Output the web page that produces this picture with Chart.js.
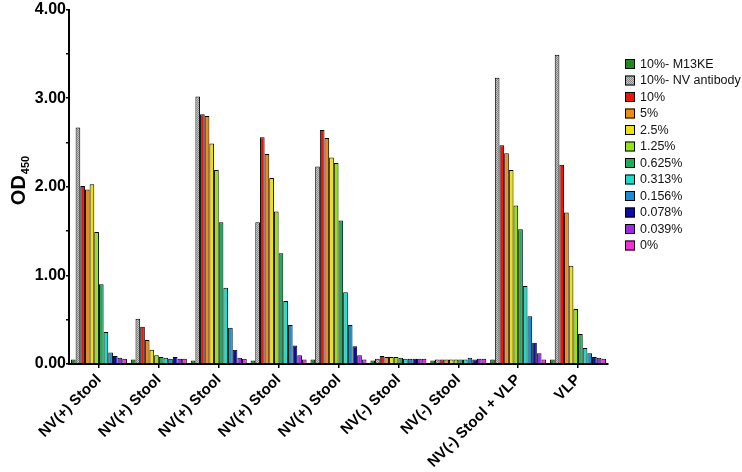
<!DOCTYPE html>
<html lang="en">
<head>
    <meta charset="UTF-8">
    <title>OD450 by sample</title>
    <style>
        body { margin: 0; background: #fff; }
        #chart-container { width: 742px; height: 472px; }
    </style>
    <script src="https://cdn.jsdelivr.net/npm/chart.js"></script>
</head>
<body>
    <div id="chart-container">
        <canvas id="odChart" width="742" height="472"></canvas>
    </div>

    <script>
        // Sample groups (x-axis)
        const categories = ['NV(+) Stool', 'NV(+) Stool', 'NV(+) Stool', 'NV(+) Stool', 'NV(+) Stool',
                            'NV(-) Stool', 'NV(-) Stool', 'NV(-) Stool + VLP', 'VLP'];

        // OD450 readings per series, one value per sample group
        const m13ke      = [0.05, 0.05, 0.04, 0.04, 0.05, 0.04, 0.04, 0.05, 0.05];
        const nvAntibody = [2.67, 0.51, 3.02, 1.60, 2.23, 0.06, 0.05, 3.23, 3.49];
        const pct10      = [2.01, 0.42, 2.82, 2.56, 2.64, 0.09, 0.05, 2.47, 2.25];
        const pct5       = [1.97, 0.27, 2.80, 2.37, 2.55, 0.08, 0.05, 2.38, 1.71];
        const pct2_5     = [2.03, 0.16, 2.49, 2.10, 2.33, 0.08, 0.05, 2.19, 1.11];
        const pct1_25    = [1.49, 0.10, 2.19, 1.72, 2.27, 0.08, 0.05, 1.79, 0.62];
        const pct0_625   = [0.90, 0.08, 1.60, 1.25, 1.62, 0.07, 0.05, 1.52, 0.34];
        const pct0_313   = [0.36, 0.07, 0.86, 0.71, 0.81, 0.06, 0.05, 0.88, 0.18];
        const pct0_156   = [0.13, 0.06, 0.41, 0.44, 0.44, 0.06, 0.07, 0.54, 0.12];
        const pct0_078   = [0.09, 0.08, 0.16, 0.21, 0.20, 0.06, 0.05, 0.24, 0.08];
        const pct0_039   = [0.07, 0.06, 0.07, 0.10, 0.10, 0.06, 0.06, 0.12, 0.07];
        const pct0       = [0.06, 0.06, 0.06, 0.05, 0.05, 0.06, 0.06, 0.05, 0.06];

        const seriesLabels = ['10%- M13KE', '10%- NV antibody', '10%', '5%', '2.5%', '1.25%',
                              '0.625%', '0.313%', '0.156%', '0.078%', '0.039%', '0%'];
        const seriesData = [m13ke, nvAntibody, pct10, pct5, pct2_5, pct1_25,
                            pct0_625, pct0_313, pct0_156, pct0_078, pct0_039, pct0];

        // speckled grey fill for the antibody control
        function greyPattern() {
            const c = document.createElement('canvas');
            c.width = 2; c.height = 2;
            const g = c.getContext('2d');
            g.fillStyle = '#c6c6c6'; g.fillRect(0, 0, 2, 2);
            g.fillStyle = '#858585'; g.fillRect(0, 0, 1, 1); g.fillRect(1, 1, 1, 1);
            return g.createPattern(c, 'repeat');
        }

        const colors = ['#1d8a1d', greyPattern(), '#e8170e', '#ea8f12', '#ece115', '#93e31b',
                        '#1eab5c', '#22d8c6', '#1a8dd0', '#0b0bb0', '#9a2ae6', '#f032d4'];

        const fontFamily = "'Liberation Sans', Arial, sans-serif";

        // legend + y title drawn by hand so they sit where the original has them
        const extrasPlugin = {
            id: 'extras',
            afterDraw(chart) {
                const c = chart.ctx;
                c.save();
                // y axis title: OD with subscript 450
                c.translate(18, 181);
                c.rotate(-Math.PI / 2);
                c.fillStyle = '#000';
                c.textBaseline = 'alphabetic';
                c.textAlign = 'left';
                c.font = 'bold 11px ' + fontFamily;
                const subW = c.measureText('450').width;
                c.font = 'bold 20px ' + fontFamily;
                const odW = c.measureText('OD').width;
                const x0 = -(odW + subW) / 2;
                c.fillText('OD', x0, 7);
                c.font = 'bold 11px ' + fontFamily;
                c.fillText('450', x0 + odW + 1, 11);
                c.restore();

                // legend
                c.save();
                c.font = '12.5px ' + fontFamily;
                c.textBaseline = 'middle';
                c.textAlign = 'left';
                chart.data.datasets.forEach((ds, i) => {
                    const y = 59 + i * 16.5;
                    c.fillStyle = ds.backgroundColor;
                    c.fillRect(625, y, 10, 10);
                    c.strokeStyle = '#000';
                    c.lineWidth = 1;
                    c.strokeRect(625.5, y + 0.5, 9, 9);
                    c.fillStyle = '#111';
                    c.fillText(ds.label, 640, y + 5.5);
                });
                c.restore();
            }
        };

        const ctx = document.getElementById('odChart').getContext('2d');
        const odChart = new Chart(ctx, {
            type: 'bar',
            data: {
                labels: categories,
                datasets: seriesLabels.map((label, i) => ({
                    label: label,
                    data: seriesData[i],
                    backgroundColor: colors[i],
                    borderColor: '#000',
                    borderWidth: 1,
                    barPercentage: 1,
                    categoryPercentage: 0.935
                }))
            },
            options: {
                responsive: false,
                animation: false,
                layout: { padding: { top: 6, right: 134, left: 0, bottom: 0 } },
                plugins: {
                    legend: { display: false },
                    tooltip: { enabled: false }
                },
                scales: {
                    x: {
                        grid: { display: true, drawOnChartArea: false, offset: false, tickLength: 4, color: '#000', lineWidth: 1.5 },
                        border: { display: true, color: '#000', width: 2 },
                        ticks: {
                            autoSkip: false, minRotation: 45, maxRotation: 45, padding: 3,
                            color: '#000', font: { family: fontFamily, size: 15, weight: 'bold' }
                        },
                        afterFit(scale) { scale.height = 108; }
                    },
                    y: {
                        min: 0, max: 4,
                        grid: { display: true, drawOnChartArea: false, tickLength: 3, color: '#000', lineWidth: 1.5 },
                        border: { display: true, color: '#000', width: 2 },
                        ticks: {
                            stepSize: 0.5, padding: 0, color: '#000',
                            font: { family: fontFamily, size: 16, weight: 'bold' },
                            callback: v => (v % 1 === 0 ? v.toFixed(2) : '')
                        },
                        afterFit(scale) { scale.width = 69; }
                    }
                }
            },
            plugins: [extrasPlugin]
        });
    </script>
</body>
</html>
